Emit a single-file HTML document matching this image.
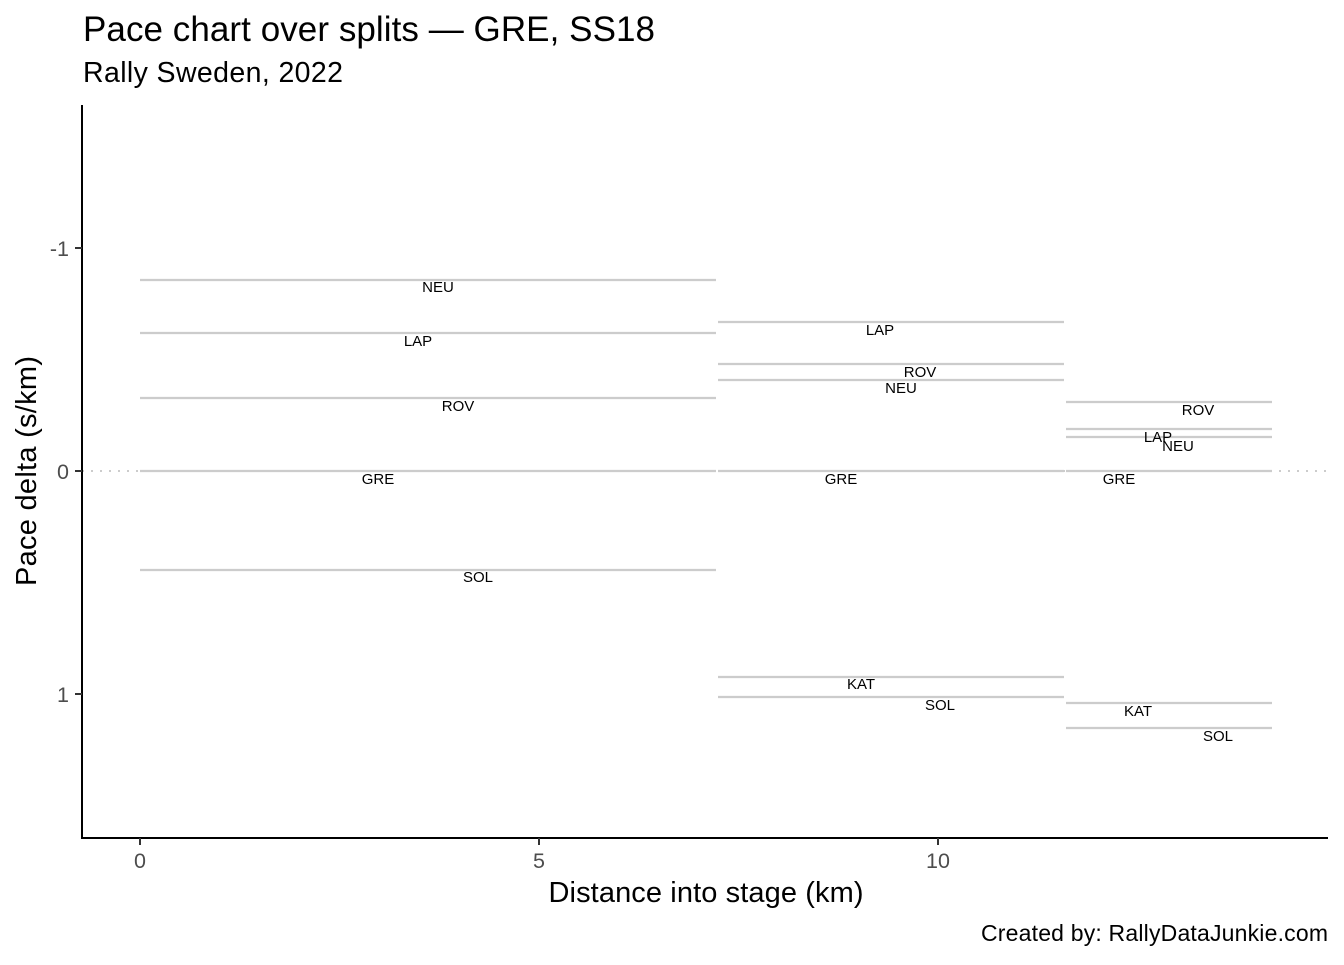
<!DOCTYPE html>
<html><head><meta charset="utf-8"><style>
body{margin:0;background:#fff;}
svg text{font-family:"Liberation Sans",Arial,sans-serif;}
</style></head><body>
<svg width="1344" height="960" viewBox="0 0 1344 960" xmlns="http://www.w3.org/2000/svg">
<rect width="1344" height="960" fill="#fff"/>
<text x="83" y="41" font-size="35" textLength="572" fill="#000">Pace chart over splits — GRE, SS18</text>
<text x="83" y="82" font-size="28.5" textLength="260" fill="#000">Rally Sweden, 2022</text>
<line x1="82" y1="471" x2="1328" y2="471" stroke="#ccc" stroke-width="2" stroke-dasharray="2,7"/>
<g stroke="#cccccc" stroke-width="2.2">
<line x1="140" x2="716" y1="280" y2="280"/>
<line x1="140" x2="716" y1="333" y2="333"/>
<line x1="140" x2="716" y1="398" y2="398"/>
<line x1="140" x2="716" y1="471" y2="471"/>
<line x1="140" x2="716" y1="570" y2="570"/>
<line x1="718" x2="1064" y1="322" y2="322"/>
<line x1="718" x2="1064" y1="364" y2="364"/>
<line x1="718" x2="1064" y1="380" y2="380"/>
<line x1="718" x2="1064" y1="471" y2="471"/>
<line x1="718" x2="1064" y1="677" y2="677"/>
<line x1="718" x2="1064" y1="697" y2="697"/>
<line x1="1066" x2="1272" y1="402" y2="402"/>
<line x1="1066" x2="1272" y1="429" y2="429"/>
<line x1="1066" x2="1272" y1="437" y2="437"/>
<line x1="1066" x2="1272" y1="471" y2="471"/>
<line x1="1066" x2="1272" y1="703" y2="703"/>
<line x1="1066" x2="1272" y1="728" y2="728"/>
</g>
<g font-size="15" fill="#000" text-anchor="middle">
<text x="438" y="292">NEU</text>
<text x="418" y="346">LAP</text>
<text x="458" y="411">ROV</text>
<text x="378" y="484">GRE</text>
<text x="478" y="582">SOL</text>
<text x="880" y="335">LAP</text>
<text x="920" y="377">ROV</text>
<text x="901" y="393">NEU</text>
<text x="841" y="484">GRE</text>
<text x="861" y="689">KAT</text>
<text x="940" y="710">SOL</text>
<text x="1198" y="415">ROV</text>
<text x="1158" y="442">LAP</text>
<text x="1178" y="451">NEU</text>
<text x="1119" y="484">GRE</text>
<text x="1138" y="716">KAT</text>
<text x="1218" y="741">SOL</text>
</g>
<g stroke="#000" stroke-width="2">
<line x1="82" y1="105" x2="82" y2="839"/>
<line x1="81" y1="838" x2="1328" y2="838"/>
</g>
<g stroke="#333" stroke-width="2">
<line x1="75" x2="82" y1="248" y2="248"/>
<line x1="75" x2="82" y1="471" y2="471"/>
<line x1="75" x2="82" y1="694" y2="694"/>
<line x1="140" x2="140" y1="838" y2="845"/>
<line x1="539" x2="539" y1="838" y2="845"/>
<line x1="938" x2="938" y1="838" y2="845"/>
</g>
<g font-size="21.5" fill="#4d4d4d">
<text x="69" y="256" text-anchor="end">-1</text>
<text x="69" y="479" text-anchor="end">0</text>
<text x="69" y="702" text-anchor="end">1</text>
<text x="140" y="868" text-anchor="middle">0</text>
<text x="539" y="868" text-anchor="middle">5</text>
<text x="938" y="868" text-anchor="middle">10</text>
</g>
<text x="706" y="902" font-size="29" textLength="315" text-anchor="middle">Distance into stage (km)</text>
<text transform="translate(36,471) rotate(-90)" font-size="29" textLength="230" text-anchor="middle">Pace delta (s/km)</text>
<text x="1328" y="941" font-size="23" textLength="347" text-anchor="end">Created by: RallyDataJunkie.com</text>
</svg>
</body></html>
